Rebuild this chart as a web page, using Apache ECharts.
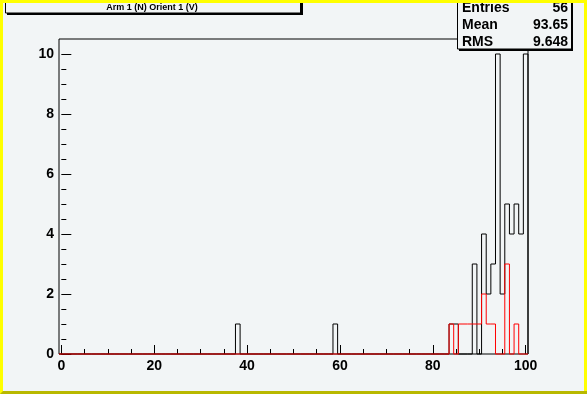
<!DOCTYPE html>
<html>
<head>
<meta charset="utf-8">
<script src="https://cdn.jsdelivr.net/npm/echarts@6/dist/echarts.min.js"></script>
<style>
    html, body { margin: 0; padding: 0; background: #f2f5f6; }
    #chart { width: 587px; height: 394px; }
</style>
</head>
<body>
<div id="chart"></div>
<script>
// histogram bins (centre values) and counts
const allBins = [38, 59, 84, 85, 89, 91, 92, 93, 94, 95, 96, 97, 98, 99, 100];
const allCounts = [1, 1, 1, 1, 3, 4, 2, 3, 10, 2, 5, 4, 5, 4, 10];
const selBins = [84, 86, 87, 88, 89, 90, 91, 92, 93, 96, 98];
const selCounts = [1, 1, 1, 1, 1, 1, 2, 1, 1, 3, 1];

const xMajor = [0, 20, 40, 60, 80, 100];
const xMinor = [5, 10, 15, 25, 30, 35, 45, 50, 55, 65, 70, 75, 85, 90, 95];
const yMajor = [0, 2, 4, 6, 8, 10];
const yMinor = [0.5, 1, 1.5, 2.5, 3, 3.5, 4.5, 5, 5.5, 6.5, 7, 7.5, 8.5, 9, 9.5];

const titleText = 'Arm 1 (N) Orient 1 (V)';
const statNames = ['Entries', 'Mean', 'RMS'];
const statValues = ['56', '93.65', '9.648'];

const BG = '#f2f5f6';
const FONT = 'Liberation Sans, Arial, sans-serif';

// turn bins into an outline (points at bin left edges, step at end)
function histLine(bins, counts) {
    const full = new Array(101).fill(0);
    bins.forEach((b, i) => { full[b] = counts[i]; });
    const pts = full.map((c, k) => [k - 0.5, c]);
    pts.push([100.5, 0]);
    return pts;
}

function initChart() {
    const chart = echarts.init(document.getElementById('chart'));

    const axisCommon = {
        type: 'value',
        axisLine: { show: false },
        splitLine: { show: false }
    };

    const statsTexts = [];
    statNames.forEach((n, i) => {
        const y = 8.5 + i * 16.7;
        statsTexts.push({
            type: 'text', x: 462, y: y, z: 110,
            style: { text: n, font: 'bold 14px ' + FONT, fill: '#000', textAlign: 'left', textVerticalAlign: 'middle' }
        });
        statsTexts.push({
            type: 'text', x: 568, y: y, z: 110,
            style: { text: statValues[i], font: 'bold 14px ' + FONT, fill: '#000', textAlign: 'right', textVerticalAlign: 'middle' }
        });
    });

    const option = {
        animation: false,
        backgroundColor: BG,
        grid: {
            left: 59, right: 59, top: 39, bottom: 40,
            show: true, borderColor: '#000', borderWidth: 1,
            backgroundColor: 'transparent'
        },
        xAxis: [
            Object.assign({}, axisCommon, {
                min: -0.5, max: 100.5, position: 'bottom',
                axisTick: { inside: true, length: 9, customValues: xMajor, lineStyle: { color: '#000' } },
                axisLabel: {
                    customValues: xMajor, margin: 5,
                    color: '#000', fontWeight: 'bold', fontSize: 14, fontFamily: FONT
                }
            }),
            Object.assign({}, axisCommon, {
                min: -0.5, max: 100.5, position: 'bottom',
                axisTick: { inside: true, length: 5, customValues: xMinor, lineStyle: { color: '#000' } },
                axisLabel: { show: false }
            })
        ],
        yAxis: [
            Object.assign({}, axisCommon, {
                min: 0, max: 10.5, position: 'left',
                axisTick: { inside: true, length: 10, customValues: yMajor, lineStyle: { color: '#000' } },
                axisLabel: {
                    customValues: yMajor, margin: 5,
                    color: '#000', fontWeight: 'bold', fontSize: 14, fontFamily: FONT
                }
            }),
            Object.assign({}, axisCommon, {
                min: 0, max: 10.5, position: 'left',
                axisTick: { inside: true, length: 5, customValues: yMinor, lineStyle: { color: '#000' } },
                axisLabel: { show: false }
            })
        ],
        series: [
            {
                type: 'line', step: 'end', xAxisIndex: 0, yAxisIndex: 0,
                data: histLine(allBins, allCounts),
                showSymbol: false, symbol: 'none', clip: false,
                lineStyle: { color: '#000', width: 1 },
                z: 3
            },
            {
                type: 'line', step: 'end', xAxisIndex: 0, yAxisIndex: 0,
                data: histLine(selBins, selCounts),
                showSymbol: false, symbol: 'none', clip: false,
                lineStyle: { color: '#ff0000', width: 1 },
                z: 4
            }
        ],
        graphic: [
            // title box
            { type: 'rect', z: 100, shape: { x: 7, y: -10, width: 296, height: 25 }, style: { fill: '#000' } },
            { type: 'rect', z: 101, shape: { x: 5.5, y: -10, width: 295, height: 23 }, style: { fill: BG, stroke: '#000', lineWidth: 1 } },
            {
                type: 'text', x: 152, y: 8, z: 102,
                style: { text: titleText, font: 'bold 9px ' + FONT, fill: '#000', textAlign: 'center', textVerticalAlign: 'middle' }
            },
            // stats box
            { type: 'rect', z: 100, shape: { x: 459, y: -10, width: 114, height: 61 }, style: { fill: '#000' } },
            { type: 'rect', z: 101, shape: { x: 457.5, y: -10, width: 114, height: 59 }, style: { fill: BG, stroke: '#000', lineWidth: 1 } }
        ].concat(statsTexts).concat([
            // canvas edges
            { type: 'rect', z: 120, shape: { x: 0, y: 0, width: 587, height: 3 }, style: { fill: '#ffff00' } },
            { type: 'rect', z: 120, shape: { x: 0, y: 0, width: 3, height: 394 }, style: { fill: '#ffff00' } },
            { type: 'rect', z: 120, shape: { x: 584, y: 0, width: 3, height: 394 }, style: { fill: '#ffff00' } },
            { type: 'polygon', z: 121, shape: { points: [[0, 394], [587, 394], [587, 391], [3, 391]] }, style: { fill: '#b8b800' } }
        ])
    };

    chart.setOption(option);

    window.addEventListener('resize', () => {
        chart.resize();
    });
}

document.addEventListener('DOMContentLoaded', initChart);
</script>
</body>
</html>
